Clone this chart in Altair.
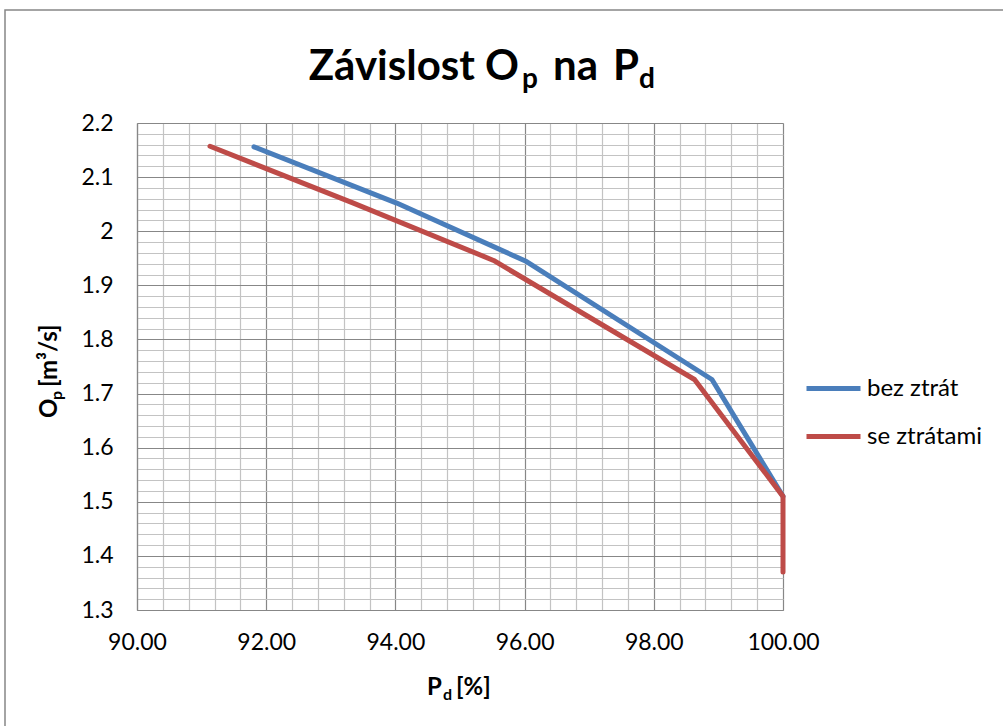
import altair as alt
import pandas as pd

# Series: P_d [%] against O_p [m3/s]
series_names = ["bez ztrát", "se ztrátami"]
series_colors = ["#4A7EBB", "#BE4B48"]

pd_bez = [91.81, 94.02, 96.03, 98.90, 100.00]
op_bez = [2.156, 2.052, 1.944, 1.726, 1.510]

pd_se = [91.13, 93.35, 95.52, 98.63, 100.00, 100.00]
op_se = [2.157, 2.052, 1.946, 1.726, 1.510, 1.370]

# Axis ticks: major labels every 2 % / 0.1 m3/s, light grid in fifths
x_ticks = [round(90 + 0.4 * i, 1) for i in range(26)]
y_ticks = [round(1.3 + 0.02 * i, 2) for i in range(46)]

FONT = "Lato"
PLOT_W, PLOT_H = 646, 487
LEFT, TOP = 137, 123

rows = []
for i, (x, y) in enumerate(zip(pd_bez, op_bez)):
    rows.append({"serie": series_names[0], "Pd": x, "Op": y, "i": i})
for i, (x, y) in enumerate(zip(pd_se, op_se)):
    rows.append({"serie": series_names[1], "Pd": x, "Op": y, "i": i})
df = pd.DataFrame(rows)

major_x = "abs(datum.value / 2 - round(datum.value / 2)) < 1e-6"
major_y = "abs(datum.value * 10 - round(datum.value * 10)) < 1e-6"

lines = alt.Chart(df).mark_line(
    strokeWidth=5, strokeCap="round", strokeJoin="round"
).encode(
    x=alt.X(
        "Pd:Q",
        scale=alt.Scale(domain=[90, 100], nice=False, zero=False),
        axis=alt.Axis(
            values=x_ticks,
            labelExpr=f"({major_x}) ? format(datum.value, '.2f') : ''",
            gridColor={"condition": {"test": major_x, "value": "#878787"}, "value": "#c3c3c3"},
            gridWidth=1.2,
            ticks=False,
            domainColor="#878787",
            domainWidth=1.2,
            labelFont=FONT,
            labelFontSize=23,
            labelColor="#000000",
            labelPadding=21,
            labelFlush=False,
            labelOverlap=False,
            title=None,
        ),
    ),
    y=alt.Y(
        "Op:Q",
        scale=alt.Scale(domain=[1.3, 2.2], nice=False, zero=False),
        axis=alt.Axis(
            values=y_ticks,
            labelExpr=f"({major_y}) ? format(datum.value, '.1~f') : ''",
            gridColor={"condition": {"test": major_y, "value": "#878787"}, "value": "#c3c3c3"},
            gridWidth=1.2,
            ticks=False,
            domainColor="#878787",
            domainWidth=1.2,
            labelFont=FONT,
            labelFontSize=23,
            labelColor="#000000",
            labelPadding=24,
            labelFlush=False,
            labelOverlap=False,
            title=None,
        ),
    ),
    color=alt.Color(
        "serie:N",
        scale=alt.Scale(domain=series_names, range=series_colors),
        legend=alt.Legend(
            title=None,
            orient="none",
            legendX=667,
            legendY=236,
            symbolType="stroke",
            symbolSize=2916,
            symbolStrokeWidth=5,
            labelFont=FONT,
            labelFontSize=24,
            labelColor="#000000",
            labelOffset=4,
            rowPadding=6,
        ),
    ),
    order="i:Q",
)


def txt(text, x, y, size, bold=True, angle=0, align="left"):
    """Free text placed in pixels of the whole figure."""
    return alt.Chart(pd.DataFrame({"t": [text]})).mark_text(
        font=FONT,
        fontSize=size,
        fontWeight="bold" if bold else "normal",
        align=align,
        baseline="alphabetic",
        angle=angle,
        color="#000000",
    ).encode(
        text="t:N",
        x=alt.value(x - LEFT),
        y=alt.value(y - TOP),
    )


# Chart title with subscripts
title_parts = [
    txt("Závislost O", 519, 80, 42, align="right"),
    txt("p", 522, 88, 28),
    txt("na", 553, 80, 42),
    txt("P", 613, 80, 42),
    txt("d", 639, 88, 28),
]

# Axis titles with subscripts
xtitle_parts = [
    txt("P", 427, 695, 24),
    txt("d", 443, 700, 16),
    txt("[%]", 456, 695, 24),
]
ytitle_parts = [
    txt("O", 57, 418, 24, angle=270),
    txt("p", 62, 400, 16, angle=270),
    txt("[m³/s]", 57, 387, 24, angle=270),
]

frame = alt.Chart(pd.DataFrame({"k": [0]})).mark_rect(
    fill=None, stroke="#878787", strokeWidth=1.5
).encode(
    x=alt.value(5 - LEFT),
    x2=alt.value(1100),
    y=alt.value(10 - TOP),
    y2=alt.value(900),
)

chart = alt.layer(
    frame, lines, *title_parts, *xtitle_parts, *ytitle_parts
).properties(
    width=PLOT_W,
    height=PLOT_H,
    autosize="none",
    padding={"left": LEFT, "top": TOP, "right": 1003 - LEFT - PLOT_W, "bottom": 726 - TOP - PLOT_H},
).configure_view(
    stroke=None
).configure(
    background="#ffffff"
)

chart.save("out.html", embed_options={"renderer": "svg", "actions": False})
